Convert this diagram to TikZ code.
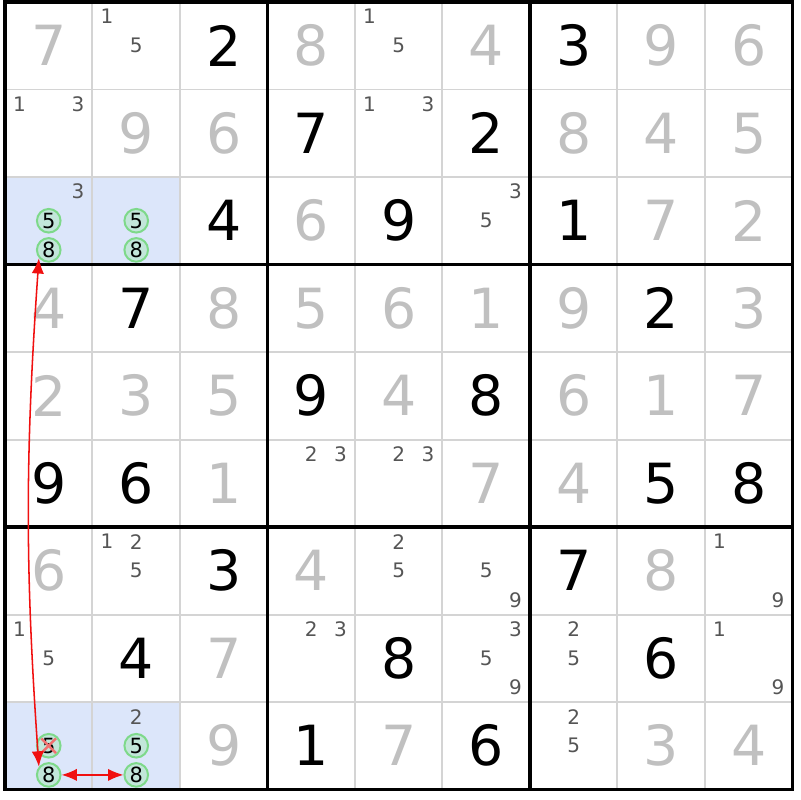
\documentclass[tikz,border=0pt]{standalone}
\usepackage{fontspec}
\setmainfont{DejaVu Sans}
\usetikzlibrary{arrows.meta}
\definecolor{givengray}{HTML}{C0C0C0}
\definecolor{candgray}{HTML}{555555}
\definecolor{hlblue}{HTML}{DCE6FA}
\definecolor{thingrid}{HTML}{D4D4D4}
\definecolor{ringgreen}{HTML}{7ED98A}
\definecolor{ringfill}{HTML}{C2E6DA}
\definecolor{linkred}{HTML}{F01010}
\definecolor{crossred}{HTML}{F07070}
\tikzset{
  given/.style={font=\fontsize{18}{18}\selectfont, text=givengray, inner sep=0pt},
  solved/.style={given, text=black},
  cand/.style={font=\fontsize{6.5}{6.5}\selectfont, text=candgray, inner sep=0pt},
  ring/.style={circle, draw=ringgreen, fill=ringfill, line width=0.65pt, minimum size=0.27cm, inner sep=0pt, font=\fontsize{6.8}{6.8}\selectfont, text=black},
  link/.style={draw=linkred, line width=0.5pt, {Latex[length=5pt,width=4pt]}-{Latex[length=5pt,width=4pt]}},
  thinline/.style={draw=thingrid, line width=0.65pt},
  boxline/.style={draw=black, line width=1.05pt}
}
\begin{document}
\begin{tikzpicture}
	\useasboundingbox (-0.057,-0.12) rectangle (9.086,9.023);
	\fill[hlblue] (0,6) rectangle (2,7);
	\fill[hlblue] (0,0) rectangle (2,1);
	
	\foreach \i in {1,2,4,5,7,8} {
		\draw[thinline] (\i,0) -- (\i,9);
		\draw[thinline] (0,\i) -- (9,\i);
	}
	\foreach \i in {3,6} {
		\draw[boxline] (\i,0) -- (\i,9);
		\draw[boxline] (0,\i) -- (9,\i);
	}
	\draw[boxline] (0,0) rectangle (9,9);
	
	\foreach \r/\c/\d in {1/1/7,1/4/8,1/6/4,1/8/9,1/9/6,
		2/2/9,2/3/6,2/7/8,2/8/4,2/9/5,
		3/4/6,3/8/7,3/9/2,
		4/1/4,4/3/8,4/4/5,4/5/6,4/6/1,4/7/9,4/9/3,
		5/1/2,5/2/3,5/3/5,5/5/4,5/7/6,5/8/1,5/9/7,
		6/3/1,6/6/7,6/7/4,
		7/1/6,7/4/4,7/8/8,
		8/3/7,
		9/3/9,9/5/7,9/8/3,9/9/4}
		\node[given] (g\r\c) at ({\c-0.5},{9.5-\r}) {\d};
	
	\foreach \r/\c/\d in {1/3/2,1/7/3,
		2/4/7,2/6/2,
		3/3/4,3/5/9,3/7/1,
		4/2/7,4/8/2,
		5/4/9,5/6/8,
		6/1/9,6/2/6,6/8/5,6/9/8,
		7/3/3,7/7/7,
		8/2/4,8/5/8,8/8/6,
		9/4/1,9/6/6}
		\node[solved] (s\r\c) at ({\c-0.5},{9.5-\r}) {\d};
	
	\foreach \r/\c/\d in {1/2/1,1/2/5,1/5/1,1/5/5,
		2/1/1,2/1/3,2/5/1,2/5/3,
		3/1/3,3/6/3,3/6/5,
		6/4/2,6/4/3,6/5/2,6/5/3,
		7/2/1,7/2/2,7/2/5,7/5/2,7/5/5,7/6/5,7/6/9,7/9/1,7/9/9,
		8/1/1,8/1/5,8/4/2,8/4/3,8/6/3,8/6/5,8/6/9,8/7/2,8/7/5,8/9/1,8/9/9,
		9/2/2,9/7/2,9/7/5}
		\node[cand] (k\r\c-\d) at ({\c-1+1/6+mod(\d-1,3)/3},{10-\r-1/6-int((\d-1)/3)/3}) {\d};
	
	\foreach \r/\c/\d in {3/1/5,3/1/8,3/2/5,3/2/8,9/1/5,9/1/8,9/2/5,9/2/8}
		\node[ring] (z\r\c-\d) at ({\c-1+1/6+mod(\d-1,3)/3},{10-\r-1/6-int((\d-1)/3)/3}) {\d};
	
	\draw[crossred, line width=0.8pt, shorten <=0.8pt, shorten >=0.8pt] (z91-5.135) -- (z91-5.-45);
	\draw[crossred, line width=0.8pt, shorten <=0.8pt, shorten >=0.8pt] (z91-5.45) -- (z91-5.-135);
	
	\draw[link] (z31-8.-140) to[bend right=4] (z91-8.140);
	\draw[link] (z91-8) -- (z92-8);
\end{tikzpicture}
\end{document}
